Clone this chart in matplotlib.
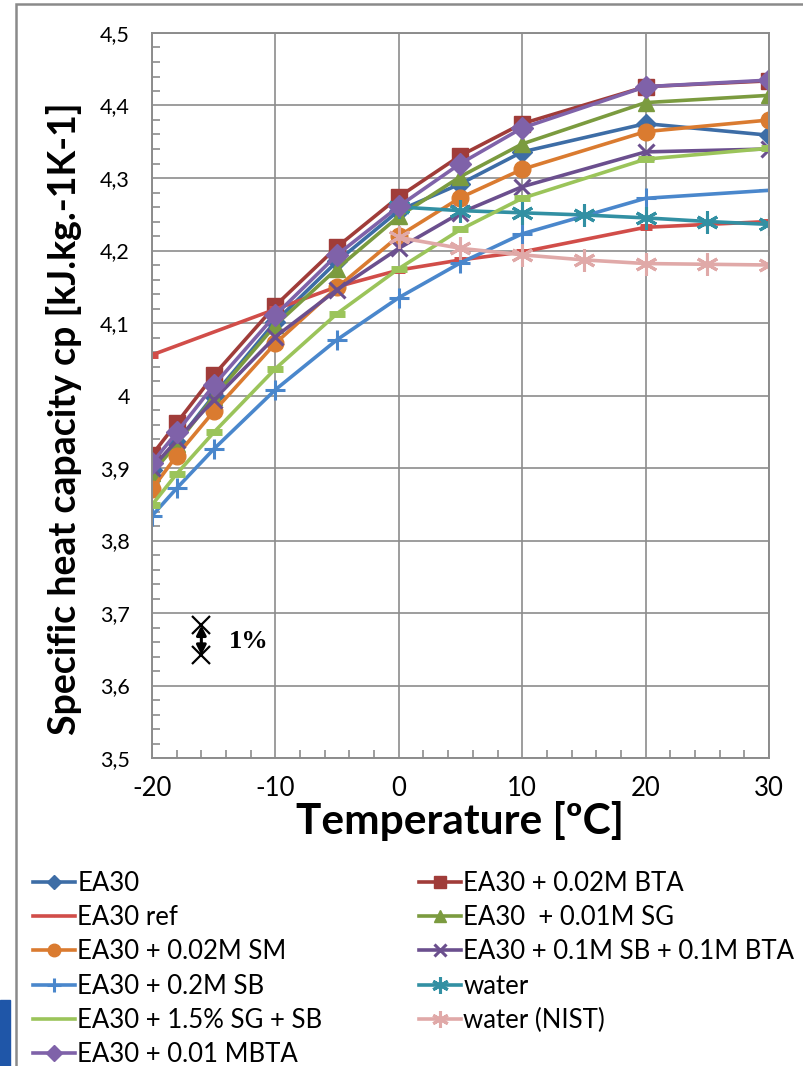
import matplotlib
matplotlib.use("Agg")
import matplotlib.pyplot as plt
from matplotlib.patches import Rectangle
from matplotlib.ticker import MultipleLocator

# temperatures [ºC]
temps = [-20, -18, -15, -10, -5, 0, 5, 10, 20, 30]
ref_temps = [-20, -10, -5, 0, 5, 10, 20, 30]
water_temps = [0, 5, 10, 15, 20, 25, 30]

# specific heat capacity values [kJ/kg/K]
ea30 = [3.897, 3.935, 4.000, 4.102, 4.185, 4.255, 4.292, 4.336, 4.375, 4.359]
ea30_bta = [3.918, 3.962, 4.028, 4.124, 4.205, 4.274, 4.331, 4.375, 4.426, 4.434]
ea30_ref = [4.056, 4.119, 4.150, 4.173, 4.187, 4.198, 4.232, 4.240]
ea30_sg = [3.893, 3.933, 3.998, 4.097, 4.175, 4.247, 4.302, 4.347, 4.404, 4.414]
ea30_sm = [3.871, 3.917, 3.978, 4.072, 4.149, 4.220, 4.273, 4.312, 4.364, 4.380]
ea30_sb_bta = [3.900, 3.938, 3.994, 4.081, 4.146, 4.203, 4.252, 4.288, 4.336, 4.340]
ea30_sb = [3.834, 3.872, 3.926, 4.008, 4.077, 4.135, 4.183, 4.223, 4.272, 4.283]
water = [4.260, 4.255, 4.252, 4.249, 4.245, 4.240, 4.236]
ea30_sg_sb = [3.849, 3.892, 3.949, 4.037, 4.113, 4.175, 4.229, 4.272, 4.326, 4.341]
water_nist = [4.218, 4.203, 4.194, 4.187, 4.182, 4.181, 4.180]
ea30_mbta = [3.907, 3.949, 4.014, 4.111, 4.194, 4.261, 4.320, 4.369, 4.426, 4.435]

x_ticks = [-20, -10, 0, 10, 20, 30]
y_ticks = [3.5, 3.6, 3.7, 3.8, 3.9, 4.0, 4.1, 4.2, 4.3, 4.4, 4.5]
y_tick_labels = ["3,5", "3,6", "3,7", "3,8", "3,9", "4", "4,1", "4,2", "4,3", "4,4", "4,5"]

ASTERISK = (6, 2, 0)

# (label, x, y, colour, marker, markersize) in drawing order
series = [
    ("EA30", temps, ea30, "#3D6DA6", "D", 10),
    ("EA30 + 0.02M BTA", temps, ea30_bta, "#A03C39", "s", 11),
    ("EA30 ref", ref_temps, ea30_ref, "#D14D49", "_", 8),
    ("EA30  + 0.01M SG", temps, ea30_sg, "#7B9B3F", "^", 12),
    ("EA30 + 0.02M SM", temps, ea30_sm, "#DA7B30", "o", 12),
    ("EA30 + 0.1M SB + 0.1M BTA", temps, ea30_sb_bta, "#6B4F8E", "x", 12),
    ("EA30 + 0.2M SB", temps, ea30_sb, "#4A87CC", "+", 14),
    ("water", water_temps, water, "#3290A3", ASTERISK, 16),
    ("EA30 + 1.5% SG + SB", temps, ea30_sg_sb, "#9BC45A", "_", 11),
    ("water (NIST)", water_temps, water_nist, "#E0A9A8", ASTERISK, 16),
    ("EA30 + 0.01 MBTA", temps, ea30_mbta, "#7F62A9", "D", 11),
]

fig = plt.figure(figsize=(8.04, 10.66), dpi=100)
ax = fig.add_axes([152 / 804, 1 - 758 / 1066, 617 / 804, 725 / 1066])

handles = {}
for label, xs, ys, col, mk, ms in series:
    if mk == "_":
        ln, = ax.plot(xs, ys, color=col, lw=2.6, marker="s", ms=0.1, label=label)
        ax.plot(xs, ys, ls="none", color=col, marker="_", ms=ms, mew=5)
    else:
        thin = mk in ("x", "+", ASTERISK)
        ln, = ax.plot(xs, ys, color=col, lw=2.6, marker=mk, ms=ms,
                      mew=2.2 if thin else 1, label=label)
    handles[label] = ln

ax.set_xlim(-20, 30)
ax.set_ylim(3.5, 4.5)
ax.set_xticks(x_ticks)
ax.set_xticklabels([str(t) for t in x_ticks])
ax.set_yticks(y_ticks)
ax.set_yticklabels(y_tick_labels)
ax.xaxis.set_minor_locator(MultipleLocator(2))
ax.yaxis.set_minor_locator(MultipleLocator(0.02))
ax.tick_params(which="major", length=0, labelsize=15.5, pad=16)
ax.tick_params(axis="x", which="major", labelsize=18.5, pad=13)
ax.tick_params(which="minor", direction="in", length=6, width=1.2, color="#8c8c8c")
ax.grid(True, which="major", color="#8c8c8c", lw=1.2)
ax.set_axisbelow(True)
for sp in ax.spines.values():
    sp.set_color("#8c8c8c")
    sp.set_linewidth(1.4)

for lab in ax.get_xticklabels() + ax.get_yticklabels():
    lab.set_fontfamily("Lato")

ax.set_xlabel("Temperature [ºC]", fontsize=30.5, fontweight="bold", family="Lato", labelpad=0)
ax.set_ylabel("Specific heat capacity cp [kJ.kg.-1K-1]", fontsize=27, fontweight="bold",
              family="Lato")
ax.yaxis.set_label_coords(-0.113, 0.468)

# 1% indicator
ax.annotate("", xy=(-16, 3.642), xytext=(-16, 3.683),
            arrowprops=dict(arrowstyle="<|-|>", color="black", lw=2.2, mutation_scale=14,
                            shrinkA=0, shrinkB=0))
ax.plot([-16, -16], [3.683, 3.642], ls="none", marker="x", ms=12.5, mew=1.6, color="black")
ax.text(-13.8, 3.66, "1%", fontsize=19, fontweight="bold", family="Liberation Serif",
        va="center", ha="left")

# legend: two columns, row-major like the original
order = ["EA30", "EA30 ref", "EA30 + 0.02M SM", "EA30 + 0.2M SB", "EA30 + 1.5% SG + SB",
         "EA30 + 0.01 MBTA", "EA30 + 0.02M BTA", "EA30  + 0.01M SG",
         "EA30 + 0.1M SB + 0.1M BTA", "water", "water (NIST)"]
fig.legend([handles[k] for k in order], order, ncol=2, loc="upper left",
           bbox_to_anchor=(20 / 804, 1 - 858 / 1066), frameon=False, borderpad=0,
           prop={"family": "Lato", "size": 18.5}, handlelength=1.65, handletextpad=0.08,
           columnspacing=3.75, labelspacing=0.36, markerscale=0.75)

# slide frame
fig.patches.append(Rectangle((16 / 804, -0.1), 1.2, 1 - 4 / 1066 + 0.1,
                             transform=fig.transFigure, fill=False,
                             edgecolor="#8a8a8a", lw=1.8))
fig.patches.append(Rectangle((0, 0), 10 / 804, 66 / 1066, transform=fig.transFigure,
                             color="#1F56A8"))

fig.savefig("out.png", dpi=100)
